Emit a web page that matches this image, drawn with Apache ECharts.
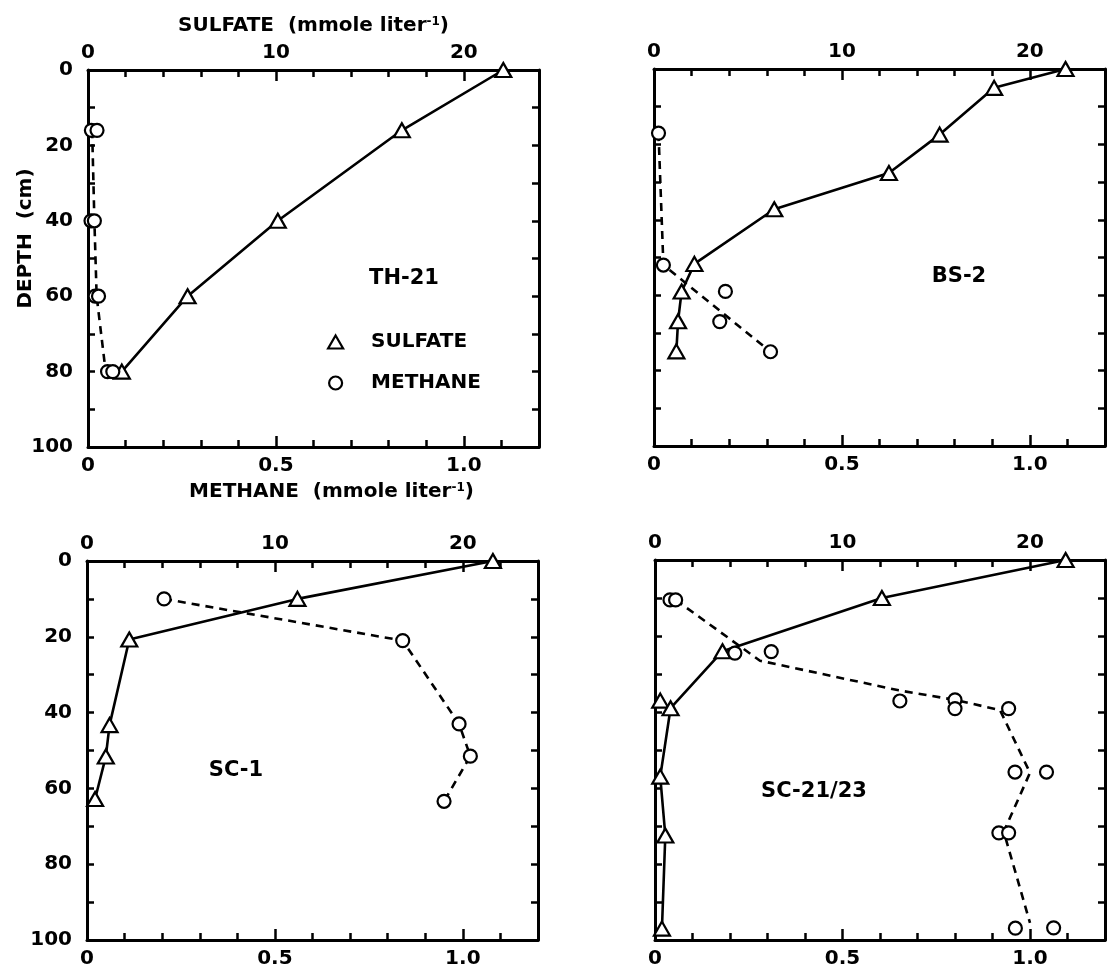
<!DOCTYPE html>
<html>
<head>
<meta charset="utf-8">
<title>Sulfate and methane depth profiles</title>
<script src="https://cdn.jsdelivr.net/npm/echarts@6/dist/echarts.min.js"></script>
<style>
  html, body { margin: 0; padding: 0; background: #fff; }
  #main { width: 1107px; height: 970px; }
</style>
</head>
<body>
<div id="main"></div>
<script>
// tick labels
const sulfateTicks = [0, 10, 20];
const methaneTicks = ['0', '0.5', '1.0'];
const depthTicks = [0, 20, 40, 60, 80, 100];

// TH-21
const th21Depth = [0, 16, 40, 60, 80];
const th21Sulfate = [22.1, 16.7, 10.1, 5.3, 1.8];
const th21MethaneDepth = [16, 16, 40, 40, 60, 60, 80, 80];
const th21Methane = [0.009, 0.024, 0.008, 0.017, 0.019, 0.028, 0.052, 0.066];
const th21TrendDepth = [16, 40, 60, 80];
const th21Trend = [0.011, 0.017, 0.023, 0.047];

// BS-2
const bs2Depth = [0, 5, 17.4, 27.6, 37.2, 51.7, 59, 66.9, 74.9];
const bs2Sulfate = [21.9, 18.1, 15.2, 12.5, 6.4, 2.15, 1.47, 1.28, 1.19];
const bs2MethaneDepth = [17, 52, 59, 67, 75];
const bs2Methane = [0.012, 0.025, 0.19, 0.175, 0.31];
const bs2TrendDepth = [17, 52, 75];
const bs2Trend = [0.012, 0.025, 0.31];

// SC-1
const sc1Depth = [0, 10, 20.7, 43.3, 51.6, 62.8];
const sc1Sulfate = [21.6, 11.2, 2.25, 1.2, 1.0, 0.43];
const sc1MethaneDepth = [10, 21, 43, 51.5, 63.4];
const sc1Methane = [0.205, 0.84, 0.99, 1.02, 0.95];

// SC-21/23
const sc21Depth = [0, 10, 24, 37, 39, 57, 72.5, 97];
const sc21Sulfate = [21.9, 12.1, 3.6, 0.28, 0.83, 0.28, 0.55, 0.37];
const sc21LineDepth = [0, 10, 24, 39, 57, 72.5, 97];
const sc21Line = [21.9, 12.1, 3.6, 0.83, 0.28, 0.55, 0.37];
const sc21MethaneDepth = [10.5, 10.5, 24.5, 24.1, 37.1, 36.8, 39.1, 39.1, 55.8, 55.8, 71.8, 71.8, 96.9, 96.8];
const sc21Methane = [0.04, 0.055, 0.213, 0.31, 0.653, 0.8, 0.8, 0.943, 0.96, 1.044, 0.917, 0.943, 0.961, 1.063];
const sc21TrendDepth = [10.5, 26.5, 34.3, 36.8, 39.5, 56, 71.5, 95.5];
const sc21Trend = [0.055, 0.28, 0.65, 0.8, 0.92, 1.0, 0.93, 1.0];

const pairs = (xs, ys) => xs.map((x, i) => [x, ys[i]]);

const panels = [
    { label: 'TH-21', sulfate: pairs(th21Sulfate, th21Depth), sulfateLine: pairs(th21Sulfate, th21Depth),
      methane: pairs(th21Methane, th21MethaneDepth), methaneLine: pairs(th21Trend, th21TrendDepth) },
    { label: 'BS-2', sulfate: pairs(bs2Sulfate, bs2Depth), sulfateLine: pairs(bs2Sulfate, bs2Depth),
      methane: pairs(bs2Methane, bs2MethaneDepth), methaneLine: pairs(bs2Trend, bs2TrendDepth) },
    { label: 'SC-1', sulfate: pairs(sc1Sulfate, sc1Depth), sulfateLine: pairs(sc1Sulfate, sc1Depth),
      methane: pairs(sc1Methane, sc1MethaneDepth), methaneLine: pairs(sc1Methane, sc1MethaneDepth) },
    { label: 'SC-21/23', sulfate: pairs(sc21Sulfate, sc21Depth), sulfateLine: pairs(sc21Line, sc21LineDepth),
      methane: pairs(sc21Methane, sc21MethaneDepth), methaneLine: pairs(sc21Trend, sc21TrendDepth) }
];

// pixel layout of the four boxes and the station labels
const layout = [
    { left: 88, top: 70, width: 451, height: 377 },
    { left: 654, top: 69, width: 451, height: 377 },
    { left: 87, top: 561, width: 451, height: 379 },
    { left: 655, top: 560, width: 450, height: 380 }
];
const labelPos = [[404, 279], [959, 277], [236, 771], [814, 792]];

const FONT = 'DejaVu Sans';
const BLACK = '#000';
const labelFont = { color: BLACK, fontFamily: FONT, fontSize: 20, fontWeight: 'bold' };
const nameFont = {
    color: BLACK, fontFamily: FONT, fontSize: 20, fontWeight: 'bold',
    rich: { sup: { color: BLACK, fontFamily: FONT, fontSize: 12, fontWeight: 'bold', verticalAlign: 'top' } }
};

function valueAxis(gridIndex, position, min, max, interval, tickLen, opts) {
    opts = opts || {};
    return Object.assign({
        type: 'value', gridIndex, position, min, max, interval,
        inverse: !!opts.inverse,
        axisLine: { show: opts.line !== false, onZero: false, lineStyle: { color: BLACK, width: 3 } },
        axisTick: { show: true, inside: true, length: tickLen, lineStyle: { color: BLACK, width: 2.5 } },
        axisLabel: opts.formatter
            ? Object.assign({ show: true, formatter: opts.formatter, margin: opts.margin }, labelFont)
            : { show: false },
        splitLine: { show: false },
        nameMoveOverlap: false
    }, opts.extra || {});
}

const sulfateFmt = v => (sulfateTicks.includes(v) ? String(v) : '');
const methaneFmt = v => {
    const t = methaneTicks.find(s => Math.abs(parseFloat(s) - v) < 1e-6);
    return t === undefined ? '' : t;
};
const depthFmt = v => (depthTicks.includes(v) ? String(v) : '');

const grid = [], xAxis = [], yAxis = [], series = [], graphic = [];

panels.forEach((p, i) => {
    grid.push(Object.assign({ containLabel: false, outerBoundsMode: 'none' }, layout[i]));
    const first = i === 0;

    // sulfate on top, methane on bottom; long ticks at labels, short ticks between
    xAxis.push(valueAxis(i, 'top', 0, 24, 10, 11, {
        formatter: sulfateFmt, margin: 7,
        extra: first ? { name: 'SULFATE  (mmole liter{sup|-1})', nameLocation: 'middle', nameGap: 34, nameTextStyle: nameFont } : {}
    }));
    xAxis.push(valueAxis(i, 'top', 0, 24, 2, 7, { line: false }));
    xAxis.push(valueAxis(i, 'bottom', 0, 1.2, 0.5, 11, {
        formatter: methaneFmt, margin: 9,
        extra: first ? { name: 'METHANE  (mmole liter{sup|-1})', nameLocation: 'middle', nameGap: 35,
            nameTextStyle: Object.assign({ padding: [0, 0, 0, 36] }, nameFont) } : {}
    }));
    xAxis.push(valueAxis(i, 'bottom', 0, 1.2, 0.1, 7, { line: false }));

    // depth, left with labels on the left column, right border with ticks only
    yAxis.push(valueAxis(i, 'left', 0, 100, 10, 7, {
        inverse: true,
        formatter: i % 2 === 0 ? depthFmt : null, margin: 15,
        extra: first ? { name: 'DEPTH  (cm)', nameLocation: 'middle', nameRotate: 90, nameGap: 52,
            nameTextStyle: Object.assign({ padding: [0, 0, 0, 40] }, nameFont) } : {}
    }));
    yAxis.push(valueAxis(i, 'right', 0, 100, 10, 7, { inverse: true }));

    series.push({
        type: 'line', xAxisIndex: 4 * i, yAxisIndex: 2 * i, data: p.sulfateLine,
        showSymbol: false, clip: false, silent: true, z: 2,
        lineStyle: { color: BLACK, width: 2.6 }
    });
    series.push({
        type: 'line', xAxisIndex: 4 * i + 2, yAxisIndex: 2 * i, data: p.methaneLine,
        showSymbol: false, clip: false, silent: true, z: 2,
        lineStyle: { color: BLACK, width: 2.6, type: [8, 6] }
    });
    series.push({
        name: 'SULFATE', type: 'scatter', xAxisIndex: 4 * i, yAxisIndex: 2 * i, data: p.sulfate,
        symbol: 'triangle', symbolSize: [16, 14], clip: false, z: 3,
        itemStyle: { color: '#fff', borderColor: BLACK, borderWidth: 2.2, opacity: 1 }
    });
    series.push({
        name: 'METHANE', type: 'scatter', xAxisIndex: 4 * i + 2, yAxisIndex: 2 * i, data: p.methane,
        symbol: 'circle', symbolSize: 13, clip: false, z: 3,
        itemStyle: { color: '#fff', borderColor: BLACK, borderWidth: 2.2, opacity: 1 }
    });

    graphic.push({
        type: 'text', x: labelPos[i][0], y: labelPos[i][1], silent: true,
        style: {
            text: p.label, fill: BLACK, font: 'bold 21px "' + FONT + '"',
            textAlign: 'center', textVerticalAlign: 'middle'
        }
    });
});

const option = {
    backgroundColor: '#fff',
    animation: false,
    grid, xAxis, yAxis, series, graphic,
    legend: {
        orient: 'vertical', left: 327, top: 332, padding: 0,
        itemWidth: 15, itemHeight: 13, itemGap: 21,
        selectedMode: false,
        textStyle: Object.assign({ lineHeight: 20, padding: [0, 0, 0, 23] }, labelFont),
        data: [
            { name: 'SULFATE', icon: 'triangle', itemStyle: { color: '#fff', borderColor: BLACK, borderWidth: 2.2 } },
            { name: 'METHANE', icon: 'circle', itemStyle: { color: '#fff', borderColor: BLACK, borderWidth: 2.2 } }
        ]
    }
};

const chart = echarts.init(document.getElementById('main'));
chart.setOption(option);
</script>
</body>
</html>
